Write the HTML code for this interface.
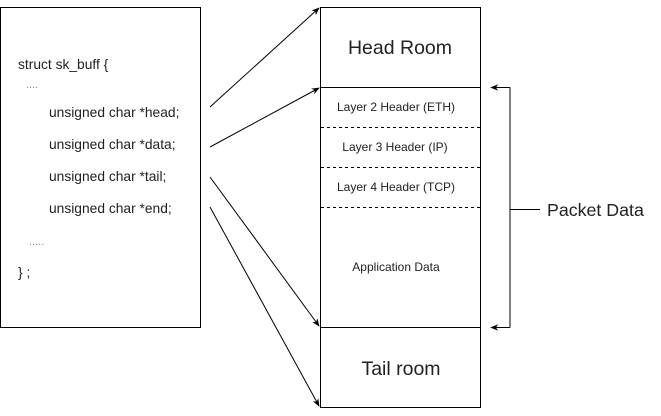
<!DOCTYPE html>
<html><head><meta charset="utf-8"><style>
html,body{margin:0;padding:0;background:#fff;}
svg{display:block;font-family:"Liberation Sans",Arial,sans-serif;}
</style></head><body>
<svg width="661" height="416" viewBox="0 0 661 416" xmlns="http://www.w3.org/2000/svg">
<defs>
<marker id="a" viewBox="0 0 10 10" refX="9" refY="5" markerWidth="8" markerHeight="8" orient="auto-start-reverse" markerUnits="userSpaceOnUse">
<path d="M0,1 L10,5 L0,9 L3,5 Z" fill="#000"/>
</marker>
</defs>
<rect x="0.5" y="7.5" width="200" height="320" fill="#fff" stroke="#000"/>
<g font-size="13.8" fill="#222">
<text x="18" y="69">struct sk_buff {</text>
<text x="26" y="88" fill="#888" font-size="11">....</text>
<text x="49" y="117">unsigned char *head;</text>
<text x="49" y="149">unsigned char *data;</text>
<text x="49" y="181">unsigned char *tail;</text>
<text x="49" y="213">unsigned char *end;</text>
<text x="29" y="245" fill="#888" font-size="11">.....</text>
<text x="18" y="277">} ;</text>
</g>
<rect x="320.5" y="7.5" width="160" height="400" fill="#fff" stroke="#000"/>
<line x1="320" y1="87.5" x2="481" y2="87.5" stroke="#000"/>
<line x1="320" y1="327.5" x2="481" y2="327.5" stroke="#000"/>
<g stroke="#000" stroke-dasharray="3,3">
<line x1="321" y1="127.5" x2="480" y2="127.5"/>
<line x1="321" y1="167.5" x2="480" y2="167.5"/>
<line x1="321" y1="207.5" x2="480" y2="207.5"/>
</g>
<text x="400" y="54" font-size="19.5" text-anchor="middle" fill="#222">Head Room</text>
<text x="401" y="375" font-size="19.5" text-anchor="middle" fill="#222">Tail room</text>
<g font-size="12" text-anchor="middle" fill="#222">
<text x="396" y="111">Layer 2 Header (ETH)</text>
<text x="395" y="151">Layer 3 Header (IP)</text>
<text x="396" y="191">Layer 4 Header (TCP)</text>
<text x="396" y="271">Application Data</text>
</g>
<g stroke="#000" fill="none" stroke-width="1">
<line x1="210" y1="107" x2="319" y2="8" marker-end="url(#a)"/>
<line x1="210" y1="147" x2="319" y2="88" marker-end="url(#a)"/>
<line x1="210" y1="177" x2="319" y2="326" marker-end="url(#a)"/>
<line x1="210" y1="207" x2="319" y2="406" marker-end="url(#a)"/>
<path d="M510,87.5 L510,327.5" />
<line x1="510" y1="87.5" x2="491" y2="87.5" marker-end="url(#a)"/>
<line x1="510" y1="327.5" x2="491" y2="327.5" marker-end="url(#a)"/>
<line x1="510" y1="209.5" x2="540" y2="209.5"/>
</g>
<text x="547" y="216" font-size="17.8" fill="#222">Packet Data</text>
</svg>
</body></html>
